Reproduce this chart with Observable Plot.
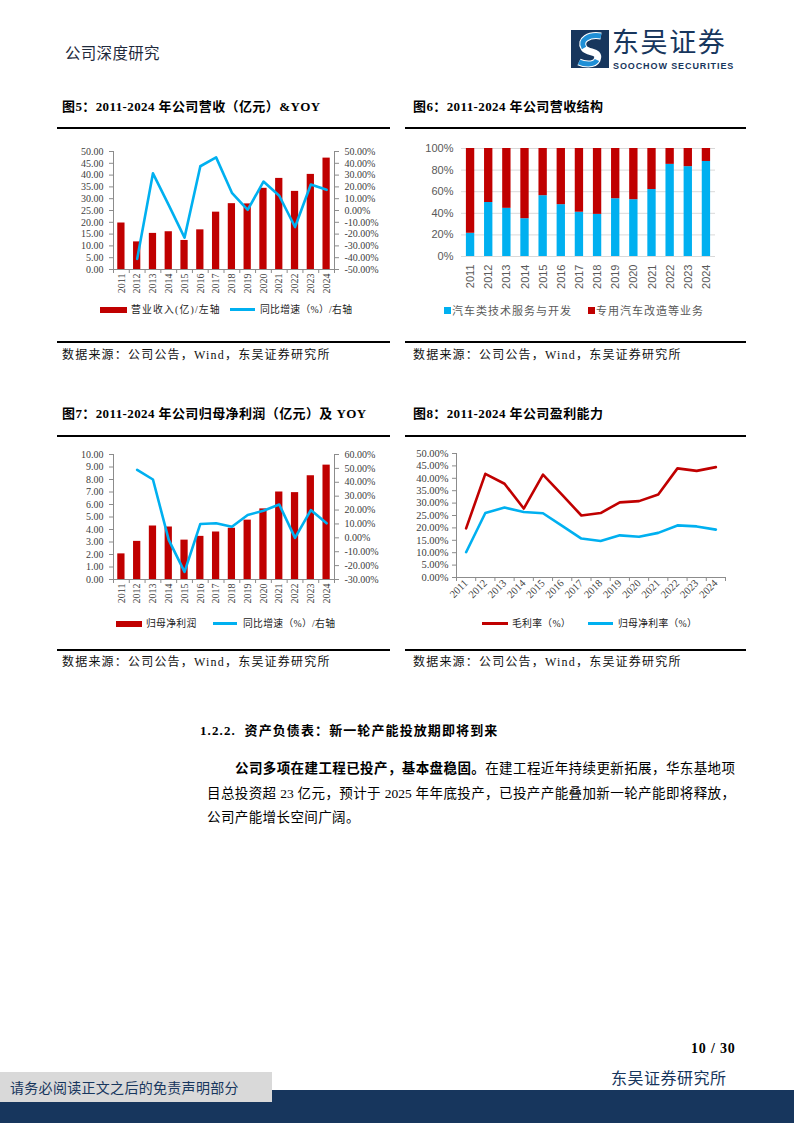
<!DOCTYPE html>
<html><head><meta charset="utf-8">
<script src="https://cdn.jsdelivr.net/npm/d3@7"></script>
<script src="https://cdn.jsdelivr.net/npm/@observablehq/plot@0.6"></script>
<style>
body{margin:0;width:794px;height:1123px;position:relative;background:#fff;overflow:hidden;font-family:"Liberation Serif","Noto Sans CJK SC",serif;color:#000}
.a{position:absolute;white-space:nowrap}
.rule{position:absolute;height:0;border-top:2px solid #000}
.ttl{font-size:13px;font-weight:bold;line-height:16px;height:16px;letter-spacing:0.4px}
.src{font-size:12px;line-height:16px;height:16px;letter-spacing:1.2px;color:#111}
.lg{font-size:9.8px;line-height:12px;height:12px;color:#222;letter-spacing:0.3px}
.lgs{font-family:"Liberation Sans","Noto Sans CJK SC",sans-serif;font-size:11px;line-height:14px;height:14px;color:#595959;letter-spacing:1px}
.box{position:absolute}
.box svg{position:absolute;left:0;top:0;overflow:visible}
.p{position:absolute;left:207px;width:530px;font-size:13.5px;line-height:18px;height:18px;text-align:justify;text-align-last:justify;white-space:nowrap}
</style></head><body>

<!-- header -->
<div class="a" style="left:65px;top:43px;font-size:15.5px;line-height:18px;color:#1f2a3c;font-family:'Noto Sans CJK SC';letter-spacing:0.3px">公司深度研究</div>
<svg class="a" style="left:571px;top:30px" width="38" height="38" viewBox="0 0 38 38">
  <rect x="0" y="0" width="38" height="38" fill="#17365D"/>
  <path d="M30 6 C18 4 8 10 13 18 C17 24 30 20 26 30 C23 36 12 34 8 32" fill="none" stroke="#fff" stroke-width="7"/>
  <path d="M30 6 C18 4 8 10 13 18" fill="none" stroke="#1f8fd6" stroke-width="5"/>
  <path d="M26 30 C23 36 12 34 8 32" fill="none" stroke="#1f8fd6" stroke-width="5"/>
</svg>
<div class="a" style="left:612px;top:27px;font-size:27px;line-height:27px;height:27px;color:#17365D;font-family:'Noto Sans CJK SC';letter-spacing:1.6px">东吴证券</div>
<div class="a" style="left:613px;top:61.5px;font-size:9px;line-height:9px;height:9px;font-weight:bold;color:#17365D;font-family:'Liberation Sans Narrow','Liberation Sans',sans-serif;letter-spacing:0.9px">SOOCHOW SECURITIES</div>

<!-- titles row 1 -->
<div class="a ttl" style="left:62px;top:99px">图5：2011-2024 年公司营收（亿元）&amp;YOY</div>
<div class="a ttl" style="left:413px;top:99px">图6：2011-2024 年公司营收结构</div>
<div class="rule" style="left:57px;width:333px;top:127px"></div>
<div class="rule" style="left:405px;width:341px;top:127px"></div>

<div class="box" id="c1" style="left:60px;top:140px;width:330px;height:160px"></div>
<div class="box" id="c2" style="left:405px;top:138px;width:340px;height:160px"></div>

<!-- legends row 1 -->
<div class="a" style="left:100px;top:307px;width:27px;height:6px;background:#C00000"></div>
<div class="a lg" style="left:131px;top:304px;letter-spacing:1.2px">营业收入(亿)/左轴</div>
<div class="a" style="left:230px;top:308px;width:25px;height:3px;background:#00B0F0"></div>
<div class="a lg" style="left:260px;top:304px">同比增速（%）/右轴</div>

<div class="a" style="left:444px;top:307px;width:7px;height:7px;background:#00B0F0"></div>
<div class="a lgs" style="left:452px;top:304px">汽车类技术服务与开发</div>
<div class="a" style="left:588px;top:307px;width:7px;height:7px;background:#C00000"></div>
<div class="a lgs" style="left:596px;top:304px">专用汽车改造等业务</div>

<div class="rule" style="left:57px;width:333px;top:341px"></div>
<div class="rule" style="left:405px;width:341px;top:341px"></div>
<div class="a src" style="left:62px;top:347px">数据来源：公司公告，Wind，东吴证券研究所</div>
<div class="a src" style="left:413px;top:347px">数据来源：公司公告，Wind，东吴证券研究所</div>

<!-- titles row 2 -->
<div class="a ttl" style="left:62px;top:406px">图7：2011-2024 年公司归母净利润（亿元）及 YOY</div>
<div class="a ttl" style="left:413px;top:406px">图8：2011-2024 年公司盈利能力</div>
<div class="rule" style="left:57px;width:333px;top:435px"></div>
<div class="rule" style="left:405px;width:341px;top:435px"></div>

<div class="box" id="c3" style="left:60px;top:444px;width:330px;height:166px"></div>
<div class="box" id="c4" style="left:405px;top:443px;width:340px;height:176px"></div>

<!-- legends row 2 -->
<div class="a" style="left:116px;top:621px;width:26px;height:6px;background:#C00000"></div>
<div class="a lg" style="left:146px;top:618px">归母净利润</div>
<div class="a" style="left:213px;top:622px;width:24px;height:3px;background:#00B0F0"></div>
<div class="a lg" style="left:243px;top:618px">同比增速（%）/右轴</div>

<div class="a" style="left:482px;top:622px;width:26px;height:3px;background:#C00000"></div>
<div class="a lg" style="left:512px;top:618px">毛利率（%）</div>
<div class="a" style="left:588px;top:622px;width:25px;height:3px;background:#00B0F0"></div>
<div class="a lg" style="left:618px;top:618px">归母净利率（%）</div>

<div class="rule" style="left:57px;width:333px;top:649px"></div>
<div class="rule" style="left:405px;width:341px;top:649px"></div>
<div class="a src" style="left:62px;top:654px">数据来源：公司公告，Wind，东吴证券研究所</div>
<div class="a src" style="left:413px;top:654px">数据来源：公司公告，Wind，东吴证券研究所</div>

<!-- body text -->
<div class="a" style="left:200px;top:722px;font-size:13px;line-height:18px;font-weight:bold;letter-spacing:1.1px">1.2.2.&nbsp;&nbsp;资产负债表：新一轮产能投放期即将到来</div>
<div class="p" style="left:235px;width:500px;top:760px"><b>公司多项在建工程已投产，基本盘稳固。</b>在建工程近年持续更新拓展，华东基地项</div>
<div class="p" style="top:785px;width:528px">目总投资超 23 亿元，预计于 2025 年年底投产，已投产产能叠加新一轮产能即将释放，</div>
<div class="p" style="top:809px;text-align-last:left;letter-spacing:0.4px">公司产能增长空间广阔。</div>

<!-- footer -->
<div class="a" style="left:691px;top:1041px;font-size:14px;line-height:16px;font-weight:bold;letter-spacing:0.8px">10 / 30</div>
<div class="a" style="left:611px;top:1068px;font-size:16px;line-height:18px;color:#17365D;font-family:'Noto Sans CJK SC';letter-spacing:0.5px">东吴证券研究所</div>
<div class="a" style="left:0;top:1090px;width:794px;height:33px;background:#17365D"></div>
<div class="a" style="left:0;top:1072px;width:272px;height:30px;background:#D9D9D9"></div>
<div class="a" style="left:10px;top:1078px;font-size:14px;line-height:18px;color:#17365D;font-family:'Noto Sans CJK SC';letter-spacing:0.3px">请务必阅读正文之后的免责声明部分</div>

<script>
const years = ["2011","2012","2013","2014","2015","2016","2017","2018","2019","2020","2021","2022","2023","2024"];
// Fig 5: revenue (100m CNY) and YoY (%)
const revenue    = [19.7, 11.7, 15.3, 16.0, 12.3, 16.8, 24.3, 27.9, 27.8, 34.4, 38.6, 33.1, 40.3, 47.2];
const revenueYoY = [null, -41.0, 31.5, 4.6, -23.0, 37.5, 45.0, 15.0, 0.5, 24.5, 12.5, -14.0, 22.0, 17.5];
const revTicks    = [0, 5, 10, 15, 20, 25, 30, 35, 40, 45, 50];
const revYoYTicks = [-50, -40, -30, -20, -10, 0, 10, 20, 30, 40, 50];
// Fig 6: revenue structure (%)
const techShare = [21.5, 50.0, 44.6, 35.0, 56.3, 48.0, 41.0, 39.0, 53.5, 52.6, 62.0, 85.3, 83.2, 88.0];
const modShare  = [78.5, 50.0, 55.4, 65.0, 43.7, 52.0, 59.0, 61.0, 46.5, 47.4, 38.0, 14.7, 16.8, 12.0];
const shareTicks = [0, 20, 40, 60, 80, 100];
// Fig 7: net profit attributable (100m CNY) and YoY (%)
const netProfit    = [2.05, 3.05, 4.28, 4.20, 3.15, 3.45, 3.80, 4.10, 4.75, 5.65, 7.00, 6.95, 8.30, 9.15];
const netProfitYoY = [null, 49.0, 42.0, -1.5, -24.5, 10.0, 10.5, 8.0, 16.5, 19.5, 24.0, 0.0, 20.0, 10.5];
const profitTicks    = [0, 1, 2, 3, 4, 5, 6, 7, 8, 9, 10];
const profitYoYTicks = [-30, -20, -10, 0, 10, 20, 30, 40, 50, 60];
// Fig 8: margins (%)
const grossMargin = [19.8, 41.8, 37.8, 27.8, 41.5, 33.3, 25.0, 26.0, 30.3, 30.8, 33.5, 44.0, 43.0, 44.5];
const netMargin   = [10.2, 26.0, 28.2, 26.4, 25.9, 20.8, 15.7, 14.7, 17.0, 16.4, 18.0, 21.0, 20.6, 19.3];
const marginTicks = [0, 5, 10, 15, 20, 25, 30, 35, 40, 45, 50];

const RED = "#C00000", BLUE = "#00B0F0", AX = "#8c8c8c";
const idx = years.map((_, i) => i);
const edges = [-0.5, ...idx.map(i => i + 0.5)];
const xDom = [-0.5, years.length - 0.5];
const HALF = 0.23;
const serif = {fontFamily: '"Liberation Serif","Noto Sans CJK SC",serif', fontSize: "10px", color: "#404040", background: "transparent", overflow: "visible"};
const sans = {fontFamily: '"Liberation Sans","Noto Sans CJK SC",sans-serif', fontSize: "11px", color: "#595959", background: "transparent", overflow: "visible"};

function dual(id, cfg) {
  const box = document.getElementById(id);
  const dims = {width: cfg.w, height: cfg.h, marginLeft: cfg.ml, marginRight: cfg.mr, marginTop: cfg.mt, marginBottom: cfg.mb};
  const barRows = years.map((y, i) => ({i, v: cfg.bars[i]}));
  const lineRows = years.map((y, i) => ({i, v: cfg.line[i]})).filter(d => d.v != null);
  const p1 = Plot.plot({...dims, style: serif, x: {domain: xDom}, y: {domain: cfg.leftDomain},
    marks: [
      Plot.rectY(barRows, {x1: d => d.i - HALF, x2: d => d.i + HALF, y1: 0, y2: "v", fill: RED}),
      Plot.ruleY([cfg.leftDomain[0]], {stroke: AX}),
      Plot.ruleX([xDom[0]], {stroke: AX}),
      Plot.axisY({ticks: cfg.leftTicks, tickFormat: d => d.toFixed(2), tickSize: 4, tickPadding: 6, stroke: AX, label: null}),
      Plot.axisX({ticks: idx, tickFormat: i => years[i], tickRotate: -90, tickSize: 0, tickPadding: 4, label: null}),
      Plot.axisX({ticks: edges, tickFormat: () => "", tickSize: 4, stroke: AX, label: null})
    ]});
  const p2 = Plot.plot({...dims, style: serif, x: {domain: xDom, axis: null}, y: {domain: cfg.rightDomain},
    marks: [
      Plot.ruleX([xDom[1]], {stroke: AX}),
      Plot.axisY({anchor: "right", ticks: cfg.rightTicks, tickFormat: d => d.toFixed(2) + "%", tickSize: 4, tickPadding: 6, stroke: AX, label: null}),
      Plot.line(lineRows, {x: "i", y: "v", stroke: BLUE, strokeWidth: 2.6})
    ]});
  box.append(p1, p2);
}

dual("c1", {w: 330, h: 160, ml: 53, mr: 56, mt: 11, mb: 31,
  bars: revenue, line: revenueYoY, leftDomain: [0, 50], leftTicks: revTicks, rightDomain: [-50, 50], rightTicks: revYoYTicks});
dual("c3", {w: 330, h: 166, ml: 53, mr: 56, mt: 10, mb: 31,
  bars: netProfit, line: netProfitYoY, leftDomain: [0, 10], leftTicks: profitTicks, rightDomain: [-30, 60], rightTicks: profitYoYTicks});

// Fig 6
{
  const rows = years.map((y, i) => ({i, tech: techShare[i], mod: modShare[i]}));
  const p = Plot.plot({width: 340, height: 160, marginLeft: 56, marginRight: 30, marginTop: 10, marginBottom: 42,
    style: sans, x: {domain: xDom}, y: {domain: [0, 100]},
    marks: [
      Plot.gridY(shareTicks, {stroke: "#d9d9d9", strokeOpacity: 1}),
      Plot.rectY(rows, {x1: d => d.i - HALF, x2: d => d.i + HALF, y1: 0, y2: "tech", fill: BLUE}),
      Plot.rectY(rows, {x1: d => d.i - HALF, x2: d => d.i + HALF, y1: "tech", y2: d => d.tech + d.mod, fill: RED}),
      Plot.ruleY([0], {stroke: "#d9d9d9"}),
      Plot.axisY({ticks: shareTicks, tickFormat: d => d + "%", tickSize: 0, tickPadding: 8, label: null}),
      Plot.axisX({ticks: idx, tickFormat: i => years[i], tickRotate: -90, tickSize: 0, tickPadding: 8, label: null})
    ]});
  document.getElementById("c2").append(p);
}

// Fig 8
{
  const rows = years.map((y, i) => ({i, gross: grossMargin[i], net: netMargin[i]}));
  const p = Plot.plot({width: 340, height: 176, marginLeft: 51, marginRight: 20, marginTop: 10, marginBottom: 42,
    style: {...serif, fontSize: "10.5px"}, x: {domain: xDom}, y: {domain: [0, 50]},
    marks: [
      Plot.ruleY([0], {stroke: AX}),
      Plot.ruleX([xDom[0]], {stroke: AX}),
      Plot.axisY({ticks: marginTicks, tickFormat: d => d.toFixed(2) + "%", tickSize: 4, tickPadding: 4, stroke: AX, label: null}),
      Plot.axisX({ticks: idx, tickFormat: i => years[i], tickRotate: -45, tickSize: 0, tickPadding: 4, label: null}),
      Plot.axisX({ticks: edges, tickFormat: () => "", tickSize: 4, stroke: AX, label: null}),
      Plot.line(rows, {x: "i", y: "gross", stroke: RED, strokeWidth: 2.6}),
      Plot.line(rows, {x: "i", y: "net", stroke: BLUE, strokeWidth: 2.6})
    ]});
  document.getElementById("c4").append(p);
}
</script>
</body></html>
